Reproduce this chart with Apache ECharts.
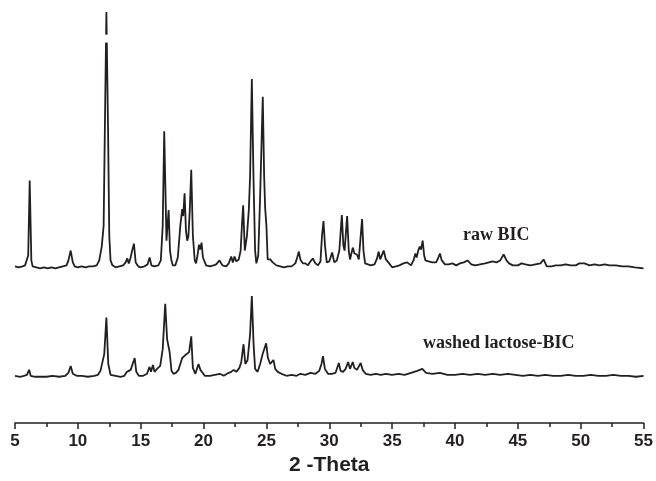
<!DOCTYPE html>
<html>
<head>
<meta charset="utf-8">
<script src="https://cdn.jsdelivr.net/npm/echarts@6/dist/echarts.min.js"></script>
<style>html,body{margin:0;padding:0;background:#fff}#c{width:656px;height:481px}</style>
</head>
<body>
<div id="c"></div>
<script>
// 2-Theta tick labels
const xTicks = [5, 10, 15, 20, 25, 30, 35, 40, 45, 50, 55];
const seriesNames = ['raw BIC', 'washed lactose-BIC'];

// raw BIC pattern: [2-Theta, intensity (a.u., offset)]
const rawBIC = [
[5.0,159],[5.3,158],[5.6,159],[5.8,160],[5.95,162],[6.05,170],[6.17,246],[6.3,165],[6.4,159],[6.7,158],
[7.0,157],[7.3,158],[7.6,157],[7.9,158],[8.2,157],[8.5,158],[8.8,159],[9.1,160],[9.25,165],[9.43,175],
[9.6,163],[9.75,159],[10.0,158],[10.3,159],[10.6,158],[10.9,159],[11.2,159],[11.5,160],[11.7,165],[11.9,179],
[12.05,200],[12.15,300],[12.27,417],[12.4,300],[12.5,190],[12.6,165],[12.75,160],[13.0,158],[13.3,159],[13.6,160],
[13.8,163],[13.93,167],[14.05,162],[14.2,168],[14.3,174],[14.46,182],[14.6,163],[14.8,159],[15.0,158],[15.3,159],
[15.55,161],[15.71,168],[15.85,160],[16.1,159],[16.4,160],[16.6,165],[16.75,200],[16.87,296],[17.05,185],[17.22,216],
[17.33,175],[17.43,166],[17.55,160],[17.75,160],[17.95,168],[18.15,200],[18.3,217],[18.38,210],[18.49,233],[18.6,195],
[18.7,185],[18.8,190],[18.9,215],[19.02,257],[19.15,190],[19.3,165],[19.4,162],[19.52,170],[19.63,181],[19.72,176],
[19.84,183],[19.95,168],[20.2,160],[20.5,159],[20.8,160],[21.0,161],[21.27,165],[21.5,160],[21.8,159],[22.0,162],
[22.2,169],[22.33,163],[22.46,169],[22.6,164],[22.8,166],[22.95,175],[23.05,200],[23.15,221],[23.28,175],[23.45,190],
[23.6,216],[23.7,250],[23.84,349],[23.97,250],[24.1,175],[24.2,162],[24.35,170],[24.5,230],[24.71,331],[24.82,250],
[24.9,218],[25.0,200],[25.1,166],[25.3,166],[25.5,163],[25.8,160],[26.1,159],[26.4,158],[26.7,159],[27.0,159],
[27.3,162],[27.45,168],[27.58,174],[27.7,166],[27.9,162],[28.1,162],[28.3,160],[28.5,164],[28.69,167],[28.9,162],
[29.1,160],[29.3,164],[29.42,190],[29.54,205],[29.66,180],[29.8,163],[30.0,164],[30.23,173],[30.4,163],[30.6,165],
[30.8,175],[31.0,211],[31.12,180],[31.22,175],[31.42,210],[31.55,175],[31.65,166],[31.87,178],[32.0,172],[32.2,171],
[32.35,166],[32.5,190],[32.61,207],[32.72,175],[32.85,162],[33.0,160],[33.3,160],[33.6,161],[33.8,167],[33.93,174],
[34.05,166],[34.15,168],[34.33,175],[34.5,166],[34.7,163],[35.0,158],[35.3,159],[35.58,160],[35.9,162],[36.2,163],
[36.5,160],[36.7,165],[36.85,172],[36.95,168],[37.1,176],[37.2,179],[37.3,176],[37.43,185],[37.55,170],[37.65,165],
[37.9,164],[38.2,163],[38.5,163],[38.65,167],[38.8,172],[38.95,165],[39.2,161],[39.5,161],[39.8,162],[40.1,160],
[40.4,162],[40.7,163],[41.0,165],[41.3,161],[41.6,160],[42.0,161],[42.4,162],[42.7,163],[43.0,164],[43.3,163],
[43.6,165],[43.87,171],[44.1,165],[44.3,162],[44.6,160],[45.0,160],[45.3,162],[45.6,161],[46.0,160],[46.4,161],
[46.8,162],[47.05,166],[47.3,159],[47.7,159],[48.0,160],[48.4,160],[48.8,161],[49.2,160],[49.6,160],[49.9,162],
[50.3,162],[50.7,160],[51.1,161],[51.5,160],[51.9,161],[52.3,160],[52.8,160],[53.3,159],[53.8,159],[54.3,158],[55.0,157]
];

// washed lactose-BIC pattern: [2-Theta, intensity (a.u.)]
const washedBIC = [
[5.0,48],[5.4,47],[5.7,48],[5.95,49],[6.12,54],[6.25,48],[6.6,47],[7.0,47],[7.5,47],[8.0,48],
[8.5,47],[9.0,48],[9.25,51],[9.43,58],[9.6,50],[9.9,48],[10.3,48],[10.8,47],[11.3,48],[11.6,49],
[11.8,53],[11.95,54],[12.1,70],[12.27,107],[12.42,60],[12.6,49],[13.0,48],[13.4,47],[13.7,48],[13.9,52],
[14.05,50],[14.2,54],[14.35,56],[14.52,66],[14.65,52],[14.85,48],[15.2,48],[15.5,50],[15.7,57],[15.82,52],
[15.97,59],[16.1,52],[16.3,55],[16.55,58],[16.75,75],[16.95,121],[17.1,85],[17.3,72],[17.45,53],[17.6,50],
[17.8,51],[18.0,54],[18.15,60],[18.3,66],[18.42,67],[18.55,69],[18.7,70],[18.85,72],[19.02,88],[19.15,56],
[19.35,50],[19.6,60],[19.75,54],[19.9,52],[20.1,48],[20.5,48],[20.9,49],[21.3,50],[21.6,48],[22.0,51],
[22.2,52],[22.4,54],[22.6,52],[22.85,56],[23.0,62],[23.18,80],[23.32,60],[23.5,64],[23.7,90],[23.84,129],
[23.98,80],[24.1,55],[24.3,52],[24.5,60],[24.7,70],[24.98,81],[25.12,66],[25.3,60],[25.56,64],[25.7,55],
[25.9,52],[26.2,50],[26.6,48],[27.0,49],[27.4,48],[27.7,50],[28.1,49],[28.5,51],[28.9,50],[29.2,53],
[29.38,60],[29.5,68],[29.65,55],[29.9,50],[30.2,50],[30.5,51],[30.76,61],[30.9,53],[31.1,52],[31.3,55],
[31.5,62],[31.65,55],[31.87,62],[32.0,56],[32.2,54],[32.5,61],[32.65,54],[32.9,50],[33.3,49],[33.7,50],
[34.1,49],[34.5,50],[35.0,49],[35.5,50],[36.0,49],[36.5,51],[37.0,53],[37.4,55],[37.7,51],[38.2,50],
[38.8,51],[39.4,49],[40.0,49],[40.6,50],[41.2,49],[41.8,50],[42.4,49],[43.0,50],[43.6,49],[44.2,50],
[44.8,49],[45.4,48],[46.0,49],[46.6,48],[47.2,49],[47.8,48],[48.4,48],[49.0,49],[49.6,48],[50.2,48],
[50.8,49],[51.4,48],[52.0,48],[52.6,49],[53.2,48],[53.8,48],[54.4,47],[55.0,48]
];

// axis-break gap on the clipped raw peak
const breakGap = [[12.1, 390], [12.45, 390]];

const ink = '#231f20';
const chart = echarts.init(document.getElementById('c'), null, {renderer: 'canvas'});
chart.setOption({
  animation: false,
  backgroundColor: '#fff',
  grid: {left: 15, right: 12, top: 10, bottom: 52, containLabel: false},
  xAxis: {
    type: 'value', min: xTicks[0], max: xTicks[xTicks.length - 1], interval: 5,
    name: '2 -Theta', nameLocation: 'middle', nameGap: 31,
    nameTextStyle: {fontFamily: 'Liberation Sans, Arial', fontWeight: 'bold', fontSize: 21, color: ink},
    axisLine: {show: true, onZero: false, lineStyle: {color: ink, width: 1.5}},
    axisTick: {show: true, inside: false, length: 6, lineStyle: {color: ink, width: 1.5}},
    minorTick: {show: true, splitNumber: 2, length: 4, lineStyle: {color: ink, width: 1.5}},
    axisLabel: {margin: 10, fontFamily: 'Liberation Sans, Arial', fontWeight: 'bold', fontSize: 17, color: ink},
    splitLine: {show: false}
  },
  yAxis: {type: 'value', min: 0, max: 419, show: false, splitLine: {show: false}},
  series: [
    {name: seriesNames[0], type: 'line', data: rawBIC, showSymbol: false, symbol: 'none',
     lineStyle: {color: ink, width: 1.8}, z: 3},
    {name: seriesNames[1], type: 'line', data: washedBIC, showSymbol: false, symbol: 'none',
     lineStyle: {color: ink, width: 1.8}, z: 3},
    {name: 'break', type: 'line', data: breakGap, showSymbol: false, symbol: 'none',
     lineStyle: {color: '#ffffff', width: 8}, z: 5, silent: true}
  ],
  graphic: [
    {type: 'text', left: 463, top: 226, style: {text: seriesNames[0], fill: ink,
      font: 'bold 18px "Liberation Serif", "Times New Roman", serif'}},
    {type: 'text', left: 423, top: 334, style: {text: seriesNames[1], fill: ink,
      font: 'bold 18px "Liberation Serif", "Times New Roman", serif'}}
  ]
});
</script>
</body>
</html>
